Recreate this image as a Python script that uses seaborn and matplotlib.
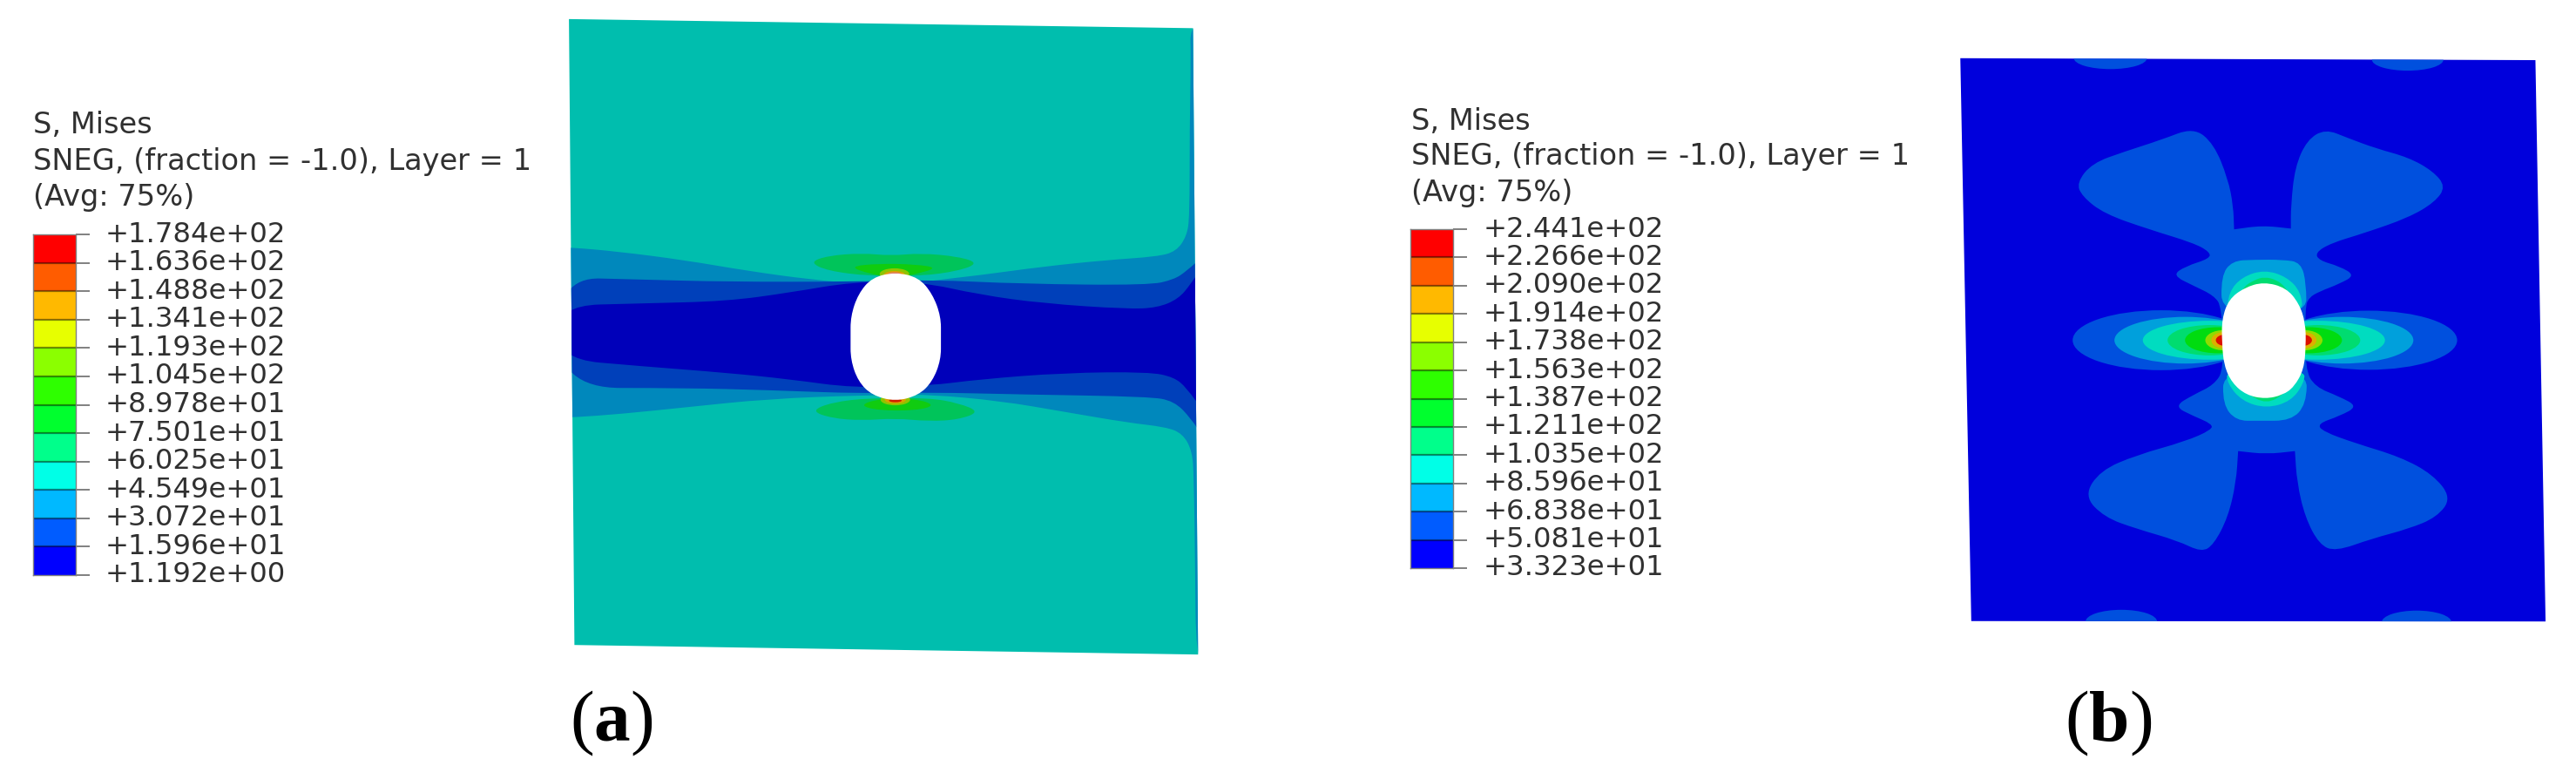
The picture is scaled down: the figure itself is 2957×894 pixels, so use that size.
import matplotlib
matplotlib.use("Agg")
import matplotlib.pyplot as plt
import numpy as np
import seaborn as sns
from matplotlib.colors import ListedColormap, BoundaryNorm
from matplotlib.path import Path
from matplotlib.patches import PathPatch, Polygon, Ellipse

W, H = 2957, 894

# ---- legend data
title_lines = ["S, Mises", "SNEG, (fraction = -1.0), Layer = 1", "(Avg: 75%)"]
bounds_a = ["+1.784e+02", "+1.636e+02", "+1.488e+02", "+1.341e+02", "+1.193e+02", "+1.045e+02", "+8.978e+01",
            "+7.501e+01", "+6.025e+01", "+4.549e+01", "+3.072e+01", "+1.596e+01", "+1.192e+00"]
bounds_b = ["+2.441e+02", "+2.266e+02", "+2.090e+02", "+1.914e+02", "+1.738e+02", "+1.563e+02", "+1.387e+02",
            "+1.211e+02", "+1.035e+02", "+8.596e+01", "+6.838e+01", "+5.081e+01", "+3.323e+01"]
band_colors = ["#FF0000", "#FF5C00", "#FFB900", "#E7FF00", "#8BFF00", "#2EFF00",
               "#00FF2E", "#00FF8B", "#00FFE7", "#00B9FF", "#005CFF", "#0000FF"]

# ---- panel (a) contour outlines
a_plate = [(27, 44), (1505, 65), (1517, 1510), (40, 1488)]
a_mid = [(0, 571), (32, 571), (140, 580), (300, 600), (450, 625), (600, 645), (720, 655), (800, 660), (880, 648),
         (1000, 635), (1150, 615), (1300, 600), (1420, 592), (1465, 580), (1490, 545), (1497, 500), (1497, 300),
         (1500, 130), (1498, 60), (1540, 60), (1540, 1520), (1512, 1520), (1510, 1300), (1507, 1100), (1503, 1040),
         (1480, 1000), (1440, 985), (1350, 975), (1200, 950), (1050, 925), (880, 910), (800, 912), (720, 912),
         (500, 920), (300, 940), (150, 955), (36, 963), (0, 963)]
a_blue2 = [(0, 640), (200, 645), (400, 650), (700, 650), (880, 645), (1100, 655), (1400, 658), (1460, 645),
           (1490, 625), (1530, 590), (1530, 1010), (1500, 965), (1460, 925), (1400, 915), (1100, 910), (880, 905),
           (720, 908), (500, 900), (300, 895), (0, 895)]
a_blue1 = [(0, 705), (200, 700), (400, 695), (550, 675), (700, 650), (860, 650), (1000, 680), (1150, 700),
           (1350, 713), (1420, 710), (1470, 690), (1500, 655), (1530, 610), (1530, 950), (1490, 895), (1460, 870),
           (1400, 858), (1200, 860), (1000, 875), (880, 890), (700, 895), (550, 875), (400, 860), (200, 845), (0, 828)]
a_green_up = [(597, 605), (640, 590), (720, 584), (790, 590), (860, 584), (950, 592), (997, 607), (950, 625),
              (860, 637), (740, 637), (640, 625)]
a_green_lo = [(600, 948), (650, 928), (740, 918), (880, 918), (950, 930), (1000, 950), (950, 968), (880, 972),
              (800, 965), (720, 970), (650, 965)]
a_bright_up = [(690, 615), (760, 608), (850, 610), (900, 618), (850, 632), (800, 642), (740, 632)]
a_bright_lo = [(715, 935), (760, 920), (850, 920), (895, 935), (850, 947), (760, 947)]
a_hole = [(800, 628), (855, 640), (888, 678), (908, 730), (908, 780), (908, 830), (888, 880), (855, 912), (800, 926),
          (745, 912), (712, 880), (694, 830), (694, 780), (694, 730), (712, 678), (745, 640)]
# tips at the hole: centre x, centre y, width, height
a_tips = [(798, 632, 70, 26, "#8FC400"), (798, 634, 50, 18, "#DCA000"), (798, 632, 30, 8, "#E0806A"),
          (800, 922, 70, 26, "#8FC400"), (800, 922, 50, 18, "#DCA000"), (800, 924, 30, 8, "#D02000")]

# ---- panel (b) contour outlines
b_plate = [(65, 60), (1483, 65), (1508, 1508), (92, 1507)]
b_cross = [(740, 500), (740, 500), (810, 490), (880, 498), (880, 498), (880, 440), (890, 340), (920, 270), (965, 242),
           (1020, 265), (1090, 292), (1170, 315), (1230, 350), (1262, 390), (1235, 430), (1170, 470), (1060, 510),
           (980, 535), (940, 560), (950, 580), (1000, 595), (1038, 618), (1000, 640), (950, 660), (925, 675),
           (915, 700), (915, 860), (940, 905), (1000, 930), (1045, 955), (1000, 980), (945, 1000), (960, 1020),
           (1040, 1050), (1150, 1085), (1230, 1130), (1276, 1190), (1240, 1240), (1170, 1270), (1080, 1295),
           (990, 1328), (950, 1310), (915, 1240), (895, 1150), (890, 1070), (890, 1070), (820, 1078), (750, 1070),
           (750, 1070), (745, 1150), (725, 1240), (690, 1310), (660, 1330), (600, 1300), (500, 1270), (420, 1240),
           (370, 1185), (410, 1120), (500, 1080), (620, 1045), (685, 1015), (685, 1000), (640, 980), (592, 955),
           (640, 925), (690, 900), (715, 860), (710, 700), (690, 670), (640, 645), (588, 618), (620, 595), (680, 575),
           (680, 558), (640, 535), (530, 500), (420, 460), (365, 415), (352, 380), (390, 330), (470, 300), (560, 270),
           (640, 238), (690, 280), (725, 370), (738, 440)]
b_cap_up = [(710, 720), (708, 620), (735, 581), (790, 578), (860, 578), (905, 585), (918, 640), (918, 720)]
b_cap_lo = [(714, 860), (712, 950), (745, 992), (800, 992), (880, 992), (918, 950), (920, 860)]
b_teal_up = [(722, 720), (727, 661), (760, 622), (815, 604), (870, 622), (905, 661), (910, 720)]
b_teal_lo = [(722, 860), (723, 896), (760, 942), (820, 960), (880, 942), (912, 896), (915, 860)]
b_green_up = [(745, 680), (763, 648), (790, 630), (815, 622), (845, 630), (866, 648), (885, 680)]
b_green_lo = [(745, 880), (768, 920), (820, 950), (868, 920), (890, 880)]
b_hole = [(813, 635), (868, 650), (900, 690), (916, 740), (917, 800), (912, 860), (888, 905), (860, 926), (817, 936),
          (770, 926), (735, 895), (715, 850), (710, 790), (710, 730), (727, 680), (765, 650)]
# side lobes: centre x, width, height, colour
b_lobes_left = [(560, 436, 154, "#0050DE"), (620, 350, 120, "#00A0DC"), (680, 330, 100, "#00DCC0"),
                (680, 208, 78, "#00DC70"), (700, 162, 67, "#00DC10"), (715, 92, 52, "#90DC00"),
                (715, 62, 42, "#DCB000"), (720, 50, 30, "#DC1000")]
b_lobes_right = [(1072, 436, 152, "#0050DE"), (1007, 350, 120, "#00A0DC"), (947, 330, 100, "#00DCC0"),
                 (947, 208, 78, "#00DC70"), (925, 162, 67, "#00DC10"), (912, 92, 52, "#90DC00"),
                 (912, 62, 42, "#DCB000"), (907, 50, 30, "#DC1000")]
# bumps on the top and bottom edges: centre x, centre y, width, height
b_bumps = [(435, 60, 180, 56), (1168, 64, 176, 56), (462, 1508, 176, 60), (1190, 1510, 172, 60)]

# ---- colours of plate shading
a_colors = dict(base="#00BEAE", mid="#0088BC", blue2="#0040BA", blue1="#0000BA", green="#00C45A", bright="#10CC10")
b_colors = dict(base="#0000DC", band2="#0050DE", band3="#00A0DC", teal="#00DCC0", green="#00DC70")


def smooth(points, **kw):
    """Closed quadratic-spline patch through the midpoints of the outline."""
    p = np.asarray(points, float)
    mids = (p + np.roll(p, -1, axis=0)) / 2
    verts = [mids[-1]]
    codes = [Path.MOVETO]
    for c, m in zip(p, mids):
        verts += [c, m]
        codes += [Path.CURVE3, Path.CURVE3]
    verts.append(mids[-1])
    codes.append(Path.CLOSEPOLY)
    return PathPatch(Path(verts, codes), linewidth=0, **kw)


def px_axes(fig, x0, y0, x1, y1):
    return fig.add_axes([x0 / W, 1 - y1 / H, (x1 - x0) / W, (y1 - y0) / H])


def legend(fig, x0, x1, y0, y1, labels, title_x, title_ys, text_x, colors):
    ax = px_axes(fig, x0, y0, x1, y1)
    values = np.array([float(v) for v in labels])
    cells = ((values[:-1] + values[1:]) / 2).reshape(-1, 1)
    norm = BoundaryNorm(values[::-1], len(colors))
    sns.heatmap(cells, ax=ax, cmap=ListedColormap(colors[::-1]), norm=norm, cbar=False,
                xticklabels=False, linewidths=0)
    ax.hlines(np.arange(1, len(colors)), 0, 1, color="#000000", alpha=0.45, linewidth=1.6)
    ax.yaxis.tick_right()
    ax.set_yticks(np.arange(len(labels)))
    ax.set_yticklabels(labels, rotation=0, fontsize=23.2, color="#303030", va="center")
    ax.tick_params(axis="y", length=11.5, width=1.4, color="#808080", pad=(text_x - x1 - 16) * 0.72, left=False, right=True)
    for s in ax.spines.values():
        s.set_visible(True)
        s.set_color("#808080")
        s.set_linewidth(1.0)
    for line, y in zip(title_lines, title_ys):
        fig.text(title_x / W, 1 - y / H, line, fontsize=24.2, color="#303030", va="center", ha="left")


def main():
    sns.set_theme(style="white")
    plt.rcParams.update({"mathtext.fontset": "custom", "mathtext.rm": "Liberation Serif",
                         "mathtext.bf": "Liberation Serif:bold", "font.family": ["DejaVu Sans"]})
    fig = plt.figure(figsize=(W / 100, H / 100), dpi=100, facecolor="white")

    legend(fig, 38, 87, 269, 660, bounds_a, 38, [143.5, 185, 226.5], 120.5, band_colors)
    legend(fig, 1619, 1668, 263, 652, bounds_b, 1620, [139.5, 180, 221], 1703, band_colors)

    # panel (a)
    ax = px_axes(fig, 640, 0, 1400, 780)
    ax.set_xlim(0, 1568); ax.set_ylim(1568, 0); ax.axis("off")
    plate = Polygon(a_plate, closed=True, facecolor=a_colors["base"], linewidth=0)
    ax.add_patch(plate)
    layers = [(a_mid, "mid"), (a_blue2, "blue2"), (a_blue1, "blue1"), (a_green_up, "green"), (a_green_lo, "green"),
              (a_bright_up, "bright"), (a_bright_lo, "bright")]
    for pts, key in layers:
        ax.add_patch(smooth(pts, facecolor=a_colors[key], clip_path=plate))
    for cx, cy, w, h, c in a_tips:
        ax.add_patch(Ellipse((cx, cy), w, h, facecolor=c, linewidth=0))
    ax.add_patch(smooth(a_hole, facecolor="white"))

    # panel (b)
    ax = px_axes(fig, 2220, 40, 2950, 740)
    ax.set_xlim(0, 1568); ax.set_ylim(1568, 0); ax.axis("off")
    plate = Polygon(b_plate, closed=True, facecolor=b_colors["base"], linewidth=0)
    ax.add_patch(plate)
    ax.add_patch(smooth(b_cross, facecolor=b_colors["band2"]))
    for cx, cy, w, h in b_bumps:
        ax.add_patch(Ellipse((cx, cy), w, h, facecolor=b_colors["band2"], linewidth=0, clip_path=plate))
    for pts, key in [(b_cap_up, "band3"), (b_cap_lo, "band3"), (b_teal_up, "teal"), (b_teal_lo, "teal"),
                     (b_green_up, "green"), (b_green_lo, "green")]:
        ax.add_patch(smooth(pts, facecolor=b_colors[key]))
    for lobes, y in ((b_lobes_left, 785), (b_lobes_right, 785)):
        for cx, w, h, c in lobes:
            ax.add_patch(Ellipse((cx, y), w, h, facecolor=c, linewidth=0))
    ax.add_patch(smooth(b_hole, facecolor="white"))

    for x, name in ((702, "a"), (2420, "b")):
        fig.text(x / W, 1 - 830 / H, "($\\mathbf{%s}$)" % name, fontsize=60, family="Liberation Serif",
                 color="black", ha="center", va="center")

    fig.savefig("out.png", dpi=100, facecolor="white")


main()
